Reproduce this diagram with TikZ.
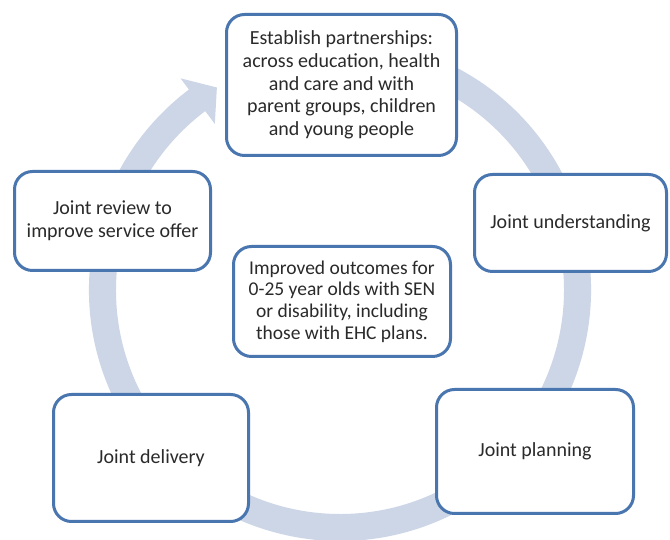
\documentclass[tikz,border=0pt]{standalone}
\usepackage{fontspec}
\setmainfont{Carlito}
\definecolor{ringc}{HTML}{CDD6E6}
\definecolor{boxc}{HTML}{4A76B0}
\definecolor{txtc}{HTML}{2A2A2A}
\begin{document}
\begin{tikzpicture}[x=1pt,y=1pt,
  stagebox/.style={draw=boxc, line width=3pt, fill=white, rounded corners=18pt,
    align=center, inner sep=0pt, text=txtc, font=\fontsize{20}{22.7}\selectfont}]
\useasboundingbox (0,0) rectangle (670,540);
\fill[white] (0,0) rectangle (670,540);
% cycle arrow
\fill[ringc, shift={(340,250)}]
  (75:251pt) arc[start angle=75, end angle=-233, radius=251pt]
  -- (-233:265pt) -- (-238.7:237pt) -- (-233:208pt) -- (-233:224pt)
  arc[start angle=-233, end angle=75, radius=224pt] -- cycle;
% boxes
\node[stagebox, minimum width=230, minimum height=141] (top) at (341.5,455)
  {Establish partnerships:\\across education, health\\and care and with\\parent groups, children\\and young people};
\node[stagebox, minimum width=196, minimum height=99] (review) at (112.5,319)
  {Joint review to\\improve service offer};
\node[stagebox, minimum width=192, minimum height=97] (underst) at (570.5,317)
  {Joint understanding};
\node[stagebox, minimum width=217, minimum height=110, font=\fontsize{19.5}{21.7}\selectfont] (centre) at (342,238.5)
  {Improved outcomes for\\0-25 year olds with SEN\\or disability, including\\those with EHC plans.};
\node[stagebox, minimum width=195, minimum height=127] (delivery) at (151,82)
  {Joint delivery};
\node[stagebox, minimum width=197, minimum height=124] (planning) at (535,88.5)
  {Joint planning};
\end{tikzpicture}
\end{document}
